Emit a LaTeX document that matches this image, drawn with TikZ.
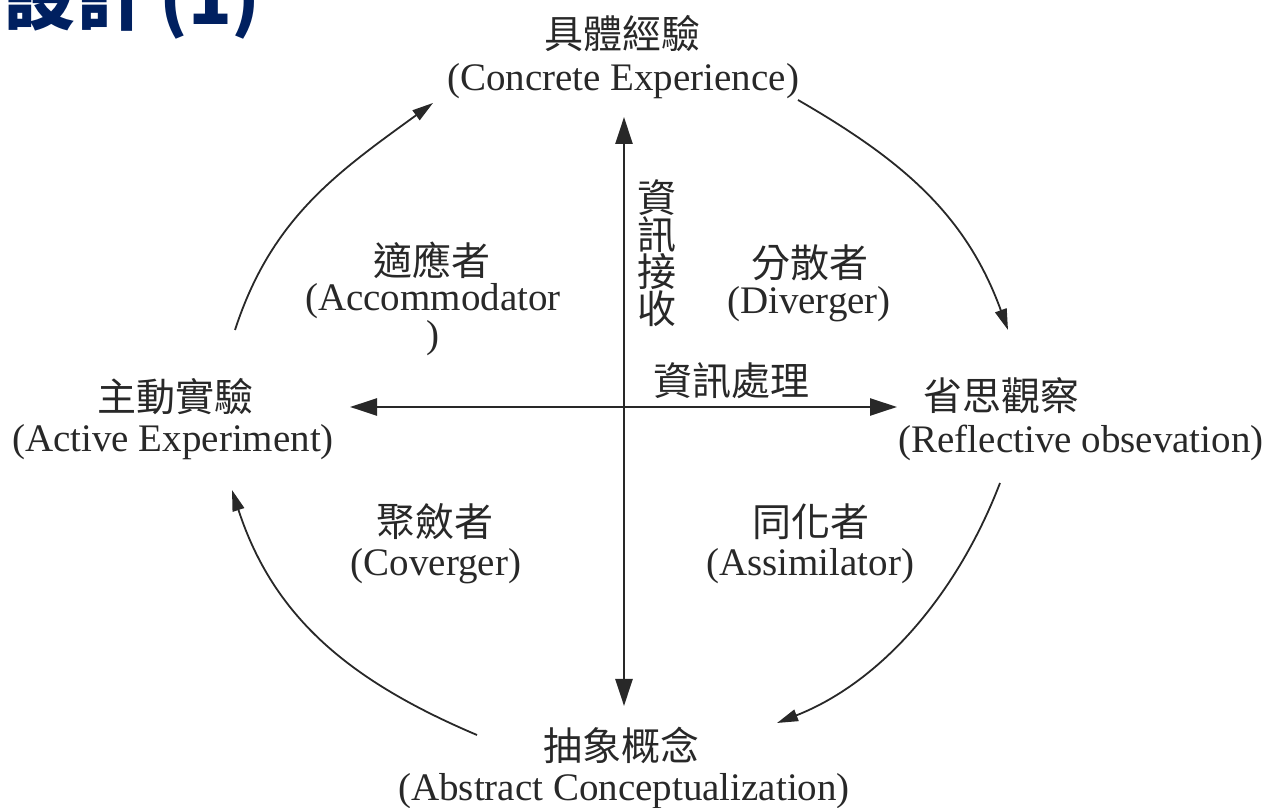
\documentclass[tikz,border=0pt]{standalone}
\usepackage{fontspec}
\setmainfont{Liberation Serif}
\newfontfamily\cjk{Noto Sans CJK TC}
\usetikzlibrary{arrows.meta}
\definecolor{titleblue}{RGB}{0,32,96}
\definecolor{ink}{RGB}{40,40,40}
\begin{document}
\begin{tikzpicture}[x=1pt,y=1pt,
  zh/.style={font=\cjk\fontsize{39}{37}\selectfont, inner sep=0pt, text=ink},
  en/.style={font=\fontsize{39}{37}\selectfont, inner sep=0pt, text=ink},
  axis/.style={line width=2.6pt, draw=ink, {Triangle[length=27pt,width=17pt]}-{Triangle[length=27pt,width=17pt]}},
  cyc/.style={line width=1.8pt, draw=ink, -{Triangle[length=21pt,width=12pt]}}]
\useasboundingbox (0,0) rectangle (1266,808);
\clip (0,0) rectangle (1266,808);

% title (cut off)
\node[anchor=base east, inner sep=0pt, text=titleblue, font=\cjk\bfseries\fontsize{72}{74}\selectfont] (title) at (261,783) {設計\kern12pt(1)};

% axes
\coordinate (vt) at (624,691);
\coordinate (vb) at (624,102);
\coordinate (hl) at (350,401);
\coordinate (hr) at (897,401);
\draw[axis] (vb) -- (vt);
\draw[axis] (hl) -- (hr);

% concept labels
\node[zh] (cezh) at (622,774) {具體經驗};
\node[en] (ceen) at (623,727) {(Concrete Experience)};
\node[zh] (aezh) at (175,411) {主動實驗};
\node[en] (aeen) at (173,366) {(Active Experiment)};
\node[zh] (rozh) at (1001,412) {省思觀察};
\node[en] (roen) at (1081,365) {(Reflective obsevation)};
\node[zh] (aczh) at (621,63) {抽象概念};
\node[en] (acen) at (624,17) {(Abstract Conceptualization)};

% quadrant labels
\node[zh] (dvzh) at (810,545) {分散者};
\node[en] (dven) at (809,504) {(Diverger)};
\node[zh] (amzh) at (432,548) {適應者};
\node[en, align=center] (amen) at (433,488) {(Accommodator\\)};
\node[zh] (cvzh) at (435,286) {聚斂者};
\node[en] (cven) at (436,242) {(Coverger)};
\node[zh] (aszh) at (811,286) {同化者};
\node[en] (asen) at (810,242) {(Assimilator)};

% axis labels
\node[zh, align=center] (recv) at (657,555) {資\\訊\\接\\收};
\node[zh] (proc) at (731,427) {資訊處理};

% cycle arrows
\coordinate (c1s) at (235,478); \coordinate (c1e) at (433,705);
\coordinate (c2s) at (798,708); \coordinate (c2e) at (1008,478);
\coordinate (c3s) at (1000,325); \coordinate (c3e) at (777,85);
\coordinate (c4s) at (477,73);  \coordinate (c4e) at (232,318);
\draw[cyc] (c1s) to[out=72,in=216] (c1e);
\draw[cyc] (c2s) to[out=-30,in=110] (c2e);
\draw[cyc] (c3s) to[out=-111,in=21.5,looseness=0.9] (c3e);
\draw[cyc] (c4s) to[out=157,in=-72] (c4e);
\end{tikzpicture}
\end{document}
